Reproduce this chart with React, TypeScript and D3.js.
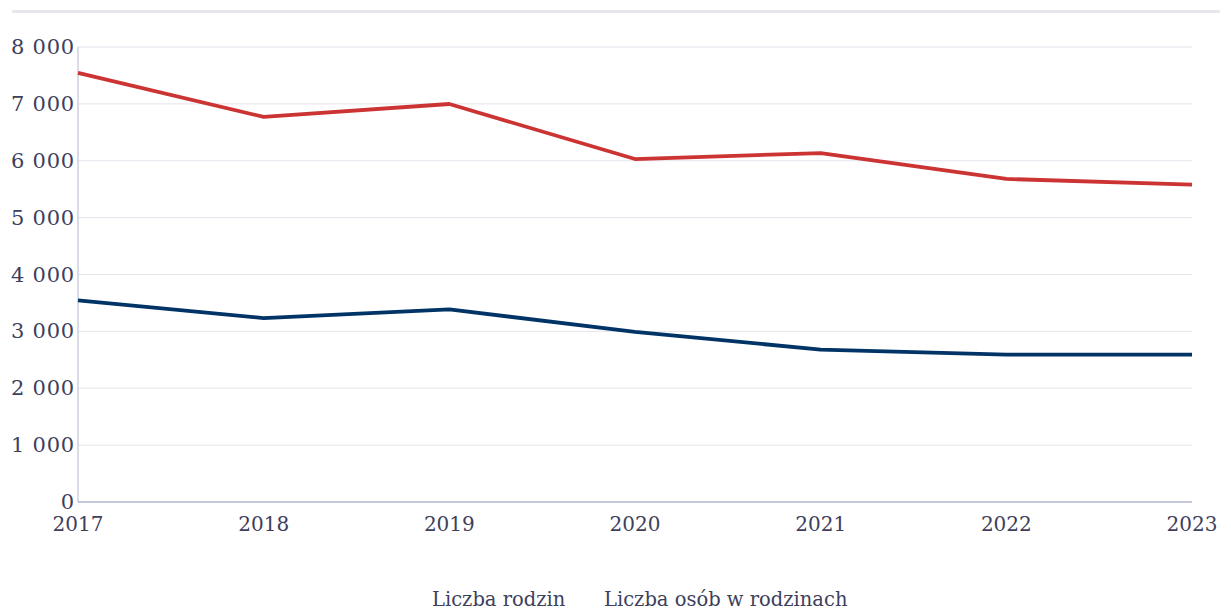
import React from 'react';
import * as d3 from 'd3';

const years = [2017, 2018, 2019, 2020, 2021, 2022, 2023];
const rodziny = [3545, 3234, 3387, 2990, 2680, 2590, 2590];
const osoby = [7545, 6771, 6998, 6030, 6135, 5680, 5580];
const yTicks = [0, 1000, 2000, 3000, 4000, 5000, 6000, 7000, 8000];
const legendLabels = ['Liczba rodzin', 'Liczba osób w rodzinach'];

const W = 1231;
const H = 610;
const margin = { top: 47, right: 39, bottom: 108, left: 78 };
const font = "Georgia, 'DejaVu Serif', serif";
const textColor = '#3d3f5c';

const fmt = (v: number) => d3.format(',')(v).replace(/,/g, ' ');

const App: React.FC = () => {
  const x = d3.scaleLinear()
    .domain([2017, 2023])
    .range([margin.left, W - margin.right]);
  const y = d3.scaleLinear()
    .domain([0, 8000])
    .range([H - margin.bottom, margin.top]);

  const line = d3.line<number>()
    .x((_, i) => x(years[i]))
    .y(d => y(d));

  const series = [
    { name: legendLabels[0], values: rodziny, color: '#003366' },
    { name: legendLabels[1], values: osoby, color: '#cc3333' },
  ];

  return (
    <svg width={W} height={H} style={{ position: 'absolute', left: 0, top: 0, background: '#fff' }}>
      <line x1={12} x2={1220} y1={11.5} y2={11.5} stroke="#e6e6ef" strokeWidth={3} />

      {yTicks.map(t => (
        <g key={t}>
          {t > 0 && (
            <line x1={x(2017)} x2={x(2023)} y1={y(t)} y2={y(t)} stroke="#e3e3ec" strokeWidth={1} />
          )}
          <text x={75} y={y(t) + 7} textAnchor="end" fontFamily={font} fontSize={21}
            letterSpacing={0.8} fill={textColor}>
            {fmt(t)}
          </text>
        </g>
      ))}

      <line x1={x(2017)} x2={x(2017)} y1={y(8000)} y2={y(0)} stroke="#b4b7d0" strokeWidth={1} />
      <line x1={x(2017)} x2={x(2023)} y1={y(0)} y2={y(0)} stroke="#8c91b2" strokeWidth={1} />

      {years.map(yr => (
        <text key={yr} x={x(yr)} y={531} textAnchor="middle" fontFamily={font} fontSize={20} fill={textColor}>
          {yr}
        </text>
      ))}

      {series.map(s => (
        <path key={s.name} d={line(s.values) || ''} fill="none" stroke={s.color}
          strokeWidth={3.8} strokeLinejoin="round" />
      ))}

      <text x={432} y={606} fontFamily={font} fontSize={19.5} fill={textColor}>{legendLabels[0]}</text>
      <text x={604} y={606} fontFamily={font} fontSize={19.5} fill={textColor}>{legendLabels[1]}</text>
    </svg>
  );
};

export default App;
